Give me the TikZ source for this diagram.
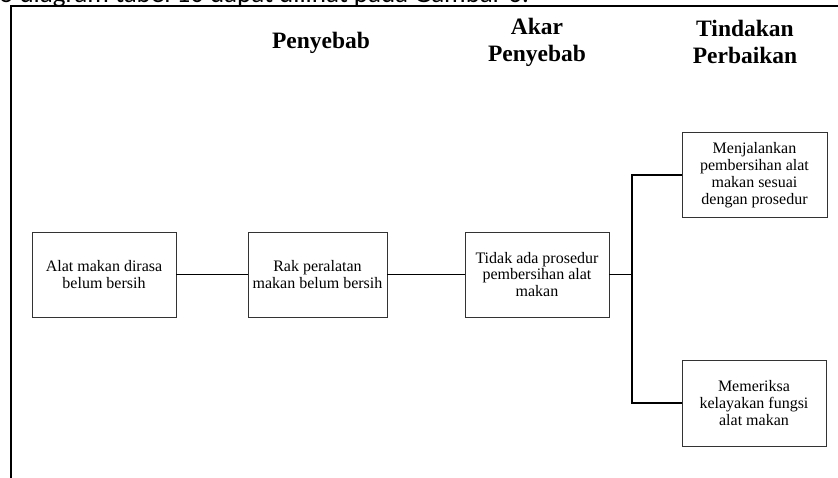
\documentclass[tikz,border=0pt]{standalone}
\usepackage{fontspec}
\setmainfont{Liberation Serif}
\newfontfamily\topfont{Carlito}
\begin{document}
\begin{tikzpicture}[x=1pt,y=-1pt,
  box/.style={draw=black!80, line width=0.8pt, minimum width=144pt, minimum height=85pt,
    inner sep=2pt, align=center, font=\fontsize{16}{16.8}\selectfont},
  head/.style={align=center, font=\fontsize{23.5}{27}\selectfont\bfseries},
  conn/.style={draw=black, line width=1.3pt},
  frame/.style={draw=black, line width=2pt}]
\useasboundingbox (0,0) rectangle (838,477);
\begin{scope}
\clip (0,0) rectangle (838,477);
\node[anchor=base west, inner sep=0pt, font=\topfont\fontsize{27}{30}\selectfont] (cap) at (-1,2.5) {o diagram tabel 10 dapat dilihat pada Gambar 6.};
\draw[frame] (11,490) -- (11,6) -- (850,6);
\end{scope}
\node[head] (h1) at (321,43) {Penyebab};
\node[head] (h2) at (537,42) {Akar\\Penyebab};
\node[head] (h3) at (745,42) {Tindakan\\Perbaikan};
\node[box] (A) at (104,274.5) {Alat makan dirasa\\belum bersih};
\node[box, minimum width=139pt] (B) at (317.5,274.5) {Rak peralatan\\makan belum bersih};
\node[box] (C) at (537,274.5) {Tidak ada prosedur\\pembersihan alat\\makan};
\node[box, minimum width=145pt] (D) at (754.5,175) {Menjalankan\\pembersihan alat\\makan sesuai\\dengan prosedur};
\node[box, minimum height=86pt] (E) at (754,403) {Memeriksa\\kelayakan fungsi\\alat makan};
\coordinate (j) at (632,274.5);
\draw[conn] (A.east) -- (B.west);
\draw[conn] (B.east) -- (C.west);
\draw[conn] (C.east) -- (j);
\draw[conn] (D.west) -- (D.west -| j) -- (E.west -| j) -- (E.west);
\end{tikzpicture}
\end{document}
